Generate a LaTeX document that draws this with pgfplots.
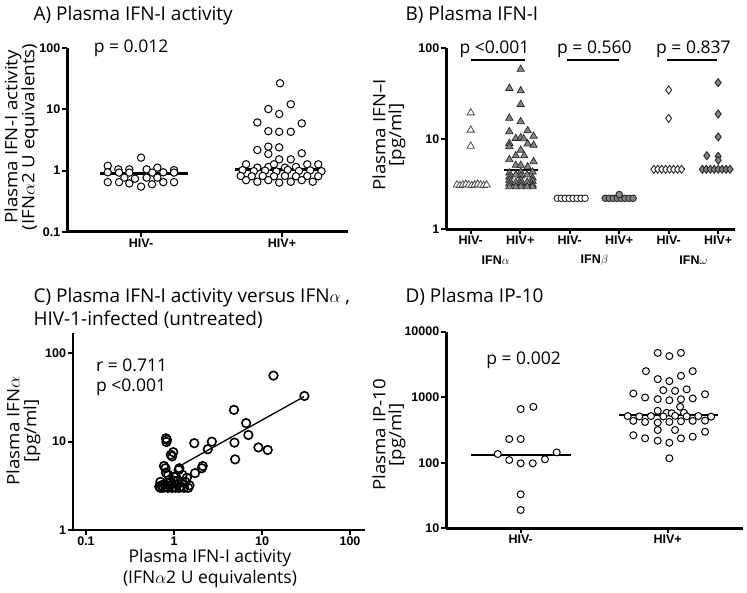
\documentclass[border=0pt]{standalone}
\usepackage{fontspec}
\usepackage{graphicx}
\usepackage{pgfplots}
\pgfplotsset{compat=1.18}
\setmainfont{Open Sans}
\newfontfamily\tickfont{Liberation Sans}
\newcommand\ttl{\fontsize{19}{19}\selectfont}
\newcommand\lab{\fontsize{17.5}{17.5}\selectfont}
\newcommand\ylab{\fontsize{17}{17}\selectfont}
\newcommand\st[1]{\scalebox{1.1}[1]{#1}}
\newcommand\tk{\tickfont\bfseries\fontsize{12.5}{13}\selectfont}
\pgfplotsset{
  prism/.style={
    scale only axis, anchor=south west,
    axis x line*=bottom, axis y line*=left,
    axis line style={-, line width=3pt},
    tick style={line width=2pt, black},
    major tick length=5pt,
    tick align=outside,
    ticklabel style={font=\tk, inner sep=1.5pt},
    xminorticks=false, yminorticks=false,
    clip=false, enlargelimits=false,
  },
  opencirc/.style={only marks, mark=*, mark size=3.7pt, mark options={fill=white, draw=black, line width=1pt}},
}
\begin{document}
\begin{tikzpicture}[x=1pt,y=1pt]
\useasboundingbox (0,0) rectangle (747,593);

% ---------------- Panel A ----------------
\node[anchor=base west, font=\ttl] at (30,572) {A) Plasma IFN-I activity};
\node[rotate=90, font=\ylab] at (13,456) {\st{Plasma IFN-I activity}};
\node[rotate=90, font=\ylab] at (30,456) {\st{(IFN$\alpha$2 U equivalents)}};
\begin{axis}[prism, at={(67pt,361pt)}, width=281pt, height=184pt,
  xmin=0.475, xmax=2.468, ymode=log, ymin=0.1, ymax=100,
  xtick={1,2}, xticklabels={HIV-,HIV+},
  ytick={0.1,1,10,100}, yticklabels={0.1,1,10,100}]
\addplot[opencirc] table {
x y
1.000 1.63
0.764 1.20
0.839 1.05
0.917 1.05
1.040 1.05
1.116 1.12
1.234 1.02
0.764 0.94
0.844 0.93
0.917 0.93
1.080 0.93
1.158 0.94
1.234 0.93
0.882 0.77
0.957 0.74
1.040 0.77
1.116 0.77
0.764 0.65
0.844 0.65
0.917 0.62
1.000 0.55
1.078 0.60
1.158 0.65
1.234 0.65
};
\addplot[opencirc] table {
x y
1.986 26.6
1.903 10.1
2.062 12.1
1.980 8.4
1.825 6.1
2.140 5.9
1.903 4.4
1.980 4.3
2.062 4.3
1.825 2.17
1.903 2.46
1.980 2.4
1.903 1.87
2.140 1.92
1.980 1.53
2.062 1.53
1.745 1.27
1.825 1.12
1.903 1.15
1.943 1.27
2.021 1.12
2.099 1.15
2.179 1.27
2.257 1.27
1.720 1.02
1.800 0.98
1.880 1.00
1.960 0.97
2.040 1.03
2.120 0.99
2.200 1.01
2.280 0.98
1.707 0.82
1.785 0.81
1.863 0.82
1.943 0.81
2.021 0.82
2.099 0.81
2.179 0.82
2.257 0.81
1.745 0.70
1.825 0.66
1.903 0.70
1.980 0.64
2.062 0.66
2.140 0.70
2.218 0.66
};
\addplot[line width=2.8pt] coordinates {(0.71,0.9) (1.33,0.9)};
\addplot[line width=2.8pt] coordinates {(1.67,1.05) (2.30,1.05)};
\node[anchor=base, font=\lab] at (axis cs:0.93,83) {p = 0.012};
\end{axis}

% ---------------- Panel B ----------------
\node[anchor=base west, font=\ttl] at (402,572) {B) Plasma IFN-I};
\node[rotate=90, font=\ylab] at (379,458) {\st{Plasma IFN--I}};
\node[rotate=90, font=\ylab] at (397,458) {\st{[pg/ml]}};
\begin{axis}[prism, at={(446pt,363.7pt)}, width=289pt, height=181pt,
  xmin=0.5, xmax=6.34, ymode=log, ymin=1, ymax=100,
  xtick={1,2,3,4,5,6}, xticklabels={HIV-,HIV+,HIV-,HIV+,HIV-,HIV+},
  ytick={1,10,100}, yticklabels={1,10,100}]
% IFNa HIV-
\addplot[only marks, mark=triangle*, mark size=4.2pt, mark options={fill=white, draw=black!70, line width=0.8pt}] table {
x y
1.00 19.4
1.00 12.5
1.00 8.3
0.72 3.1
0.78 3.05
0.84 3.1
0.90 3.15
0.96 3.1
1.02 3.05
1.08 3.1
1.14 3.15
1.20 3.1
1.26 3.05
1.32 3.1
};
% IFNa HIV+
\addplot[only marks, mark=triangle*, mark size=4.2pt, mark options={fill=black!48, draw=black!85, line width=0.7pt}] table {
x y
2.01 58.6
1.78 36.1
2.01 34.0
2.01 24.0
1.78 16.9
2.01 15.5
1.78 12.0
2.15 12.3
2.27 10.7
1.91 10.1
2.01 10.3
2.07 10.0
1.78 8.9
2.15 8.8
2.27 8.5
1.78 8.2
2.01 7.5
1.91 6.5
2.08 6.5
1.78 5.9
2.27 5.6
1.91 5.1
2.01 5.1
2.15 4.9
1.78 4.2
1.78 3.8
1.78 3.5
1.78 3.2
1.78 2.95
2.01 4.3
2.01 3.9
2.01 3.5
2.01 3.2
2.01 2.95
2.25 4.3
2.25 3.7
2.25 3.4
2.25 3.1
2.25 2.95
1.91 4.0
1.91 3.3
2.14 4.0
2.14 3.3
1.91 2.95
2.14 2.95
};
% IFNb HIV-
\addplot[only marks, mark=*, mark size=3.3pt, mark options={fill=white, draw=black!85, line width=0.9pt}] table {
x y
2.75 2.2
2.83 2.2
2.91 2.2
2.99 2.2
3.07 2.2
3.15 2.2
3.23 2.2
3.31 2.2
};
% IFNb HIV+
\addplot[only marks, mark=*, mark size=3.3pt, mark options={fill=black!48, draw=black!85, line width=0.9pt}] table {
x y
3.72 2.2
3.80 2.2
3.88 2.2
3.96 2.2
4.04 2.2
4.12 2.2
4.20 2.2
4.28 2.2
4.00 2.42
};
% IFNw HIV-
\addplot[only marks, mark=diamond*, mark size=4pt, mark options={fill=white, draw=black!85, line width=0.9pt}] table {
x y
5.00 34.6
5.00 16.8
4.70 4.6
4.78 4.6
4.86 4.6
4.94 4.6
5.02 4.6
5.10 4.6
5.18 4.6
5.26 4.6
};
% IFNw HIV+
\addplot[only marks, mark=diamond*, mark size=4pt, mark options={fill=black!48, draw=black!85, line width=0.9pt}] table {
x y
6.00 41.7
6.00 18.8
6.00 10.5
5.77 6.5
6.00 6.4
6.00 5.8
5.68 4.6
5.76 4.6
5.84 4.6
5.92 4.6
6.00 4.6
6.08 4.6
6.16 4.6
6.24 4.6
};
% medians
\addplot[line width=1.8pt] coordinates {(0.70,3.1) (1.30,3.1)};
\addplot[line width=1.8pt] coordinates {(1.67,4.5) (2.36,4.5)};
\addplot[line width=1.8pt] coordinates {(2.70,2.2) (3.35,2.2)};
\addplot[line width=1.8pt] coordinates {(3.67,2.2) (4.33,2.2)};
\addplot[line width=1.8pt] coordinates {(4.67,4.6) (5.33,4.6)};
\addplot[line width=1.8pt] coordinates {(5.67,4.6) (6.30,4.6)};
% significance bars
\addplot[line width=2pt] coordinates {(1.0,74) (2.1,74)};
\addplot[line width=2pt] coordinates {(2.95,74) (4.0,74)};
\addplot[line width=2pt] coordinates {(4.97,74) (5.98,74)};
\node[anchor=base, font=\lab] at (axis cs:1.48,88) {p <0.001};
\node[anchor=base, font=\lab] at (axis cs:3.5,88) {p = 0.560};
\node[anchor=base, font=\lab] at (axis cs:5.5,88) {p = 0.837};
\node[font=\tk, yshift=-31pt] at (axis cs:1.5,1) {IFN$\alpha$};
\node[font=\tk, yshift=-31pt] at (axis cs:3.5,1) {IFN$\beta$};
\node[font=\tk, yshift=-31pt] at (axis cs:5.5,1) {IFN$\omega$};
\end{axis}

% ---------------- Panel C ----------------
\node[anchor=base west, font=\ttl] at (30,290) {C) Plasma IFN-I activity versus IFN$\alpha$ ,};
\node[anchor=base west, font=\ttl] at (30,267) {HIV-1-infected (untreated)};
\node[rotate=90, font=\ylab] at (13,162) {\st{Plasma IFN$\alpha$}};
\node[rotate=90, font=\ylab] at (32,162) {\st{[pg/ml]}};
\node[anchor=base, font=\lab] at (210,30) {Plasma IFN-I activity};
\node[anchor=base, font=\lab] at (210,9) {(IFN$\alpha$2 U equivalents)};
\begin{axis}[prism, at={(72.7pt,63pt)}, width=292.3pt, height=196.7pt,
  xmode=log, ymode=log, xmin=0.0706, xmax=148, ymin=1, ymax=168.4,
  axis line style={-, line width=2.3pt},
  xtick={0.1,1,10,100}, xticklabels={0.1,1,10,100},
  ytick={1,10,100}, yticklabels={1,10,100}]
\addplot[only marks, mark=o, mark size=4.3pt, mark options={draw=black, line width=1.6pt}] table {
x y
13.5 55.9
30.3 32.9
4.8 22.9
6.6 16.2
7.0 11.9
4.86 9.75
4.95 6.3
9.1 8.6
11.6 8.05
2.69 10.0
2.42 8.2
1.70 9.6
2.12 5.3
2.07 5.0
1.73 4.4
1.15 5.0
0.81 10.9
0.83 10.5
0.82 9.9
0.98 7.6
0.95 6.8
0.92 7.1
0.77 5.3
0.80 5.0
0.86 4.2
0.81 4.46
1.13 4.78
1.05 4.0
1.25 4.2
1.40 3.9
0.68 3.1
0.70 3.0
0.72 3.2
0.75 3.0
0.78 3.3
0.80 3.1
0.85 3.0
0.90 3.2
0.95 3.0
1.00 3.1
1.05 3.0
1.10 3.3
1.15 3.0
1.20 3.1
1.30 3.0
1.45 3.0
1.50 3.2
0.90 3.5
1.00 3.6
1.10 3.6
1.25 3.5
1.35 3.5
0.70 3.5
1.00 4.0
};
\addplot[line width=1.3pt] coordinates {(1.12,5.2) (30,32.3)};
\node[anchor=base west, font=\lab] at (axis cs:0.119,62) {r = 0.711};
\node[anchor=base west, font=\lab] at (axis cs:0.119,36.8) {p <0.001};
\end{axis}

% ---------------- Panel D ----------------
\node[anchor=base west, font=\ttl] at (402,290) {D) Plasma IP-10};
\node[rotate=90, font=\ylab] at (379,158) {\st{Plasma IP-10}};
\node[rotate=90, font=\ylab] at (397,158) {\st{[pg/ml]}};
\begin{axis}[prism, at={(446pt,64.7pt)}, width=296.7pt, height=196.6pt,
  xmin=0.492, xmax=2.51, ymode=log, ymin=10, ymax=10000,
  xtick={1,2}, xticklabels={HIV-,HIV+},
  ytick={10,100,1000,10000}, yticklabels={10,100,1000,10000}]
\addplot[opencirc, mark size=3.5pt] table {
x y
1.000 659
1.086 714
0.922 230
1.000 230
0.844 136
1.245 144
0.922 110
1.000 98
1.082 98
1.165 113
1.000 33
1.000 19
};
\addplot[opencirc, mark size=3.5pt] table {
x y
1.932 4750
2.011 4240
2.090 4750
1.852 2500
2.170 2500
1.932 1890
2.011 1760
2.090 2120
1.766 1140
1.846 990
1.932 935
2.011 900
2.090 930
2.170 960
2.254 1110
1.970 1280
2.050 1250
2.129 1320
2.084 715
1.932 620
1.993 578
2.027 570
2.111 578
1.728 516
1.807 510
1.886 516
1.970 510
2.050 520
2.129 512
2.208 516
2.295 505
1.766 436
1.846 420
1.932 410
2.011 420
2.090 430
2.170 436
2.254 440
1.932 316
2.050 316
1.766 263
1.846 236
1.932 217
2.011 202
2.090 236
2.170 250
2.254 297
2.011 117
};
\addplot[line width=1.8pt] coordinates {(0.66,131) (1.34,131)};
\addplot[line width=1.8pt] coordinates {(1.67,533) (2.34,533)};
\node[anchor=base, font=\lab] at (axis cs:1.02,3200) {p = 0.002};
\end{axis}
\end{tikzpicture}
\end{document}
